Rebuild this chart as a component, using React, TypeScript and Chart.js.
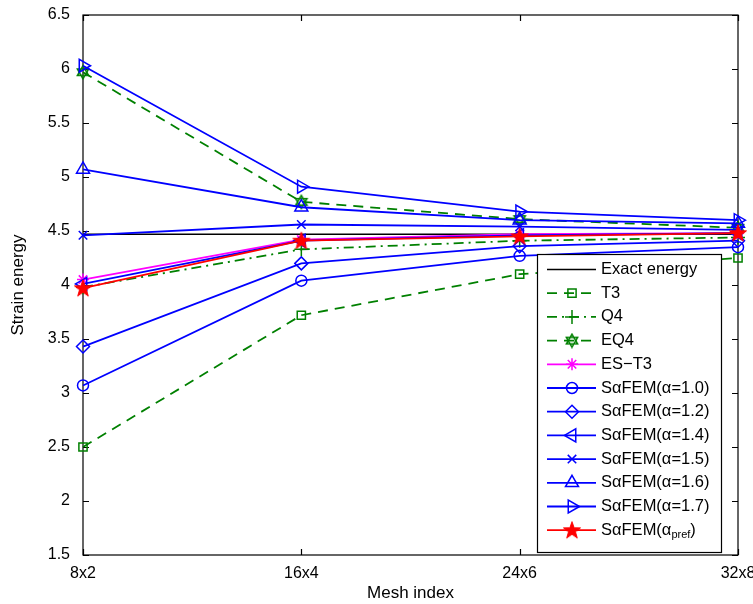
import React, { useEffect, useRef } from 'react';
import { Chart, registerables } from 'chart.js';
import { drawPoint } from 'chart.js/helpers';

Chart.register(...registerables);

const meshLabels = ['8x2', '16x4', '24x6', '32x8'];
const exactEnergy = [4.47, 4.47, 4.47, 4.47];
const t3 = [2.5, 3.72, 4.1, 4.25];
const q4 = [3.98, 4.33, 4.41, 4.44];
const eq4 = [5.97, 4.77, 4.61, 4.53];
const esT3 = [4.05, 4.42, 4.47, 4.48];
const sa10 = [3.07, 4.04, 4.27, 4.35];
const sa12 = [3.43, 4.2, 4.36, 4.41];
const sa14 = [4.01, 4.41, 4.46, 4.48];
const sa15 = [4.46, 4.56, 4.54, 4.51];
const sa16 = [5.07, 4.72, 4.6, 4.57];
const sa17 = [6.03, 4.91, 4.68, 4.6];
const saPref = [3.97, 4.41, 4.45, 4.48];
const legendLabels = [
  'Exact energy', 'T3', 'Q4', 'EQ4', 'ES\u2212T3',
  'S\u03b1FEM(\u03b1=1.0)', 'S\u03b1FEM(\u03b1=1.2)', 'S\u03b1FEM(\u03b1=1.4)',
  'S\u03b1FEM(\u03b1=1.5)', 'S\u03b1FEM(\u03b1=1.6)', 'S\u03b1FEM(\u03b1=1.7)', 'S\u03b1FEM(\u03b1'
];
const prefSub = 'pref';

const FONT = '"Liberation Sans", Arial, Helvetica, sans-serif';
const BLUE = '#0000ff';
const GREEN = '#008000';
const MAGENTA = '#ff00ff';
const RED = '#ff0000';
const NONE = 'rgba(0,0,0,0)';

function makePentagram(): HTMLCanvasElement {
  const c = document.createElement('canvas');
  c.width = 20; c.height = 20;
  const g = c.getContext('2d')!;
  g.beginPath();
  for (let i = 0; i < 10; i++) {
    const r = i % 2 === 0 ? 9 : 3.6;
    const a = -Math.PI / 2 + (i * Math.PI) / 5;
    const x = 10 + r * Math.cos(a);
    const y = 10.5 + r * Math.sin(a);
    if (i === 0) g.moveTo(x, y); else g.lineTo(x, y);
  }
  g.closePath();
  g.fillStyle = RED;
  g.fill();
  g.strokeStyle = RED;
  g.lineWidth = 1;
  g.stroke();
  return c;
}

function makeHexagram(): HTMLCanvasElement {
  const c = document.createElement('canvas');
  c.width = 16; c.height = 16;
  const g = c.getContext('2d')!;
  g.strokeStyle = GREEN;
  g.lineWidth = 1.5;
  const r = 6.5;
  for (const off of [-Math.PI / 2, Math.PI / 2]) {
    g.beginPath();
    for (let i = 0; i < 3; i++) {
      const a = off + (i * 2 * Math.PI) / 3;
      const x = 8 + r * Math.cos(a);
      const y = 8 + r * Math.sin(a);
      if (i === 0) g.moveTo(x, y); else g.lineTo(x, y);
    }
    g.closePath();
    g.stroke();
  }
  return c;
}

export default function App() {
  const ref = useRef<HTMLCanvasElement | null>(null);

  useEffect(() => {
    const canvas = ref.current;
    if (!canvas) return;
    const pent = makePentagram();
    const hexa = makeHexagram();

    const mk = (data: number[], color: string, style: any, radius: number, extra: any = {}) => ({
      data,
      borderColor: color,
      backgroundColor: color,
      pointBorderColor: color,
      pointBackgroundColor: NONE,
      pointStyle: style,
      pointRadius: radius,
      pointBorderWidth: 1.5,
      borderWidth: 1.8,
      tension: 0,
      clip: 12,
      ...extra,
    });

    const datasets: any[] = [
      mk(exactEnergy, '#000000', false, 0, { borderWidth: 1.5 }),
      mk(t3, GREEN, 'rect', 5.8, { borderDash: [10, 7] }),
      mk(q4, GREEN, 'cross', 7, { borderDash: [10, 5, 2, 5] }),
      mk(eq4, GREEN, hexa, 7, { borderDash: [10, 7] }),
      mk(esT3, MAGENTA, 'star', 6),
      mk(sa10, BLUE, 'circle', 5.5),
      mk(sa12, BLUE, 'rectRot', 6.5),
      mk(sa14, BLUE, 'triangle', 7.5, { pointRotation: -90 }),
      mk(sa15, BLUE, 'crossRot', 6),
      mk(sa16, BLUE, 'triangle', 7.5),
      mk(sa17, BLUE, 'triangle', 7.5, { pointRotation: 90 }),
      mk(saPref, RED, pent, 9, { pointBackgroundColor: RED }),
    ];
    datasets.forEach((d, i) => { d.order = -i; d.label = legendLabels[i]; });

    const framePlugin = {
      id: 'frame',
      beforeDatasetsDraw(chart: any) {
        const { ctx, chartArea: a } = chart;
        ctx.save();
        ctx.strokeStyle = '#000';
        ctx.lineWidth = 1.2;
        ctx.strokeRect(a.left, a.top, a.right - a.left, a.bottom - a.top);
        const tl = 6;
        const ys = chart.scales.y;
        ys.ticks.forEach((t: any) => {
          const y = Math.round(ys.getPixelForValue(t.value)) + 0.5;
          ctx.beginPath();
          ctx.moveTo(a.left, y); ctx.lineTo(a.left + tl, y);
          ctx.moveTo(a.right, y); ctx.lineTo(a.right - tl, y);
          ctx.stroke();
        });
        const xs = chart.scales.x;
        meshLabels.forEach((_, i) => {
          const x = Math.round(xs.getPixelForValue(i)) + 0.5;
          ctx.beginPath();
          ctx.moveTo(x, a.bottom); ctx.lineTo(x, a.bottom - tl);
          ctx.moveTo(x, a.top); ctx.lineTo(x, a.top + tl);
          ctx.stroke();
        });
        // axis titles
        ctx.fillStyle = '#000';
        ctx.font = `17px ${FONT}`;
        ctx.textAlign = 'center';
        ctx.textBaseline = 'middle';
        ctx.fillText('Mesh index', (a.left + a.right) / 2, 593);
        ctx.save();
        ctx.translate(18, (a.top + a.bottom) / 2);
        ctx.rotate(-Math.PI / 2);
        ctx.fillText('Strain energy', 0, 0);
        ctx.restore();
        ctx.restore();
      },
    };

    const legendPlugin = {
      id: 'matlabLegend',
      afterDraw(chart: any) {
        const { ctx } = chart;
        const bx = 537, by = 254, bw = 184, bh = 298;
        ctx.save();
        ctx.fillStyle = '#fff';
        ctx.fillRect(bx, by, bw, bh);
        ctx.strokeStyle = '#000';
        ctx.lineWidth = 1.2;
        ctx.strokeRect(bx + 0.5, by + 0.5, bw, bh);
        const x0 = 547, x1 = 596, xm = 572, xt = 601;
        datasets.forEach((d, i) => {
          const y = 269.5 + i * 23.7;
          ctx.save();
          ctx.strokeStyle = d.borderColor;
          ctx.lineWidth = d.borderWidth;
          ctx.setLineDash(d.borderDash || []);
          ctx.beginPath();
          ctx.moveTo(x0, y); ctx.lineTo(x1, y);
          ctx.stroke();
          ctx.setLineDash([]);
          if (d.pointStyle) {
            ctx.strokeStyle = d.pointBorderColor;
            ctx.fillStyle = d.pointBackgroundColor;
            ctx.lineWidth = d.pointBorderWidth;
            drawPoint(ctx, {
              pointStyle: d.pointStyle,
              rotation: d.pointRotation || 0,
              radius: d.pointRadius,
              borderWidth: d.pointBorderWidth,
            } as any, xm, y);
          }
          ctx.restore();
          ctx.fillStyle = '#000';
          ctx.font = `16.5px ${FONT}`;
          ctx.textAlign = 'left';
          ctx.textBaseline = 'middle';
          ctx.fillText(legendLabels[i], xt, y);
          if (i === datasets.length - 1) {
            const w = ctx.measureText(legendLabels[i]).width;
            ctx.font = `11px ${FONT}`;
            ctx.fillText(prefSub, xt + w, y + 5);
            const w2 = ctx.measureText(prefSub).width;
            ctx.font = `16.5px ${FONT}`;
            ctx.fillText(')', xt + w + w2, y);
          }
        });
        ctx.restore();
      },
    };

    const chart = new Chart(canvas, {
      type: 'line',
      data: { labels: meshLabels, datasets },
      options: {
        animation: false,
        responsive: false,
        layout: { padding: { top: 15, right: 15, left: 0, bottom: 0 } },
        plugins: { legend: { display: false }, tooltip: { enabled: false } },
        scales: {
          x: {
            type: 'category',
            offset: false,
            grid: { display: false, drawTicks: false },
            border: { display: false },
            ticks: { color: '#000', font: { family: FONT, size: 16 }, padding: 9, maxRotation: 0, autoSkip: false },
            afterFit: (s: any) => { s.height = 49; s.paddingLeft = 0; s.paddingRight = 0; },
          },
          y: {
            min: 1.5,
            max: 6.5,
            grid: { display: false, drawTicks: false },
            border: { display: false },
            ticks: {
              stepSize: 0.5,
              color: '#000',
              font: { family: FONT, size: 16 },
              padding: 13,
              callback: (v: any) => String(Math.round(Number(v) * 10) / 10),
            },
            afterFit: (s: any) => { s.width = 83; s.paddingTop = 0; s.paddingBottom = 0; },
          },
        },
      } as any,
      plugins: [framePlugin, legendPlugin],
    });
    return () => chart.destroy();
  }, []);

  return (
    <div style={{ position: 'absolute', left: 0, top: 0, width: 753, height: 604, background: '#fff' }}>
      <canvas ref={ref} width={753} height={604} style={{ display: 'block' }} />
    </div>
  );
}
